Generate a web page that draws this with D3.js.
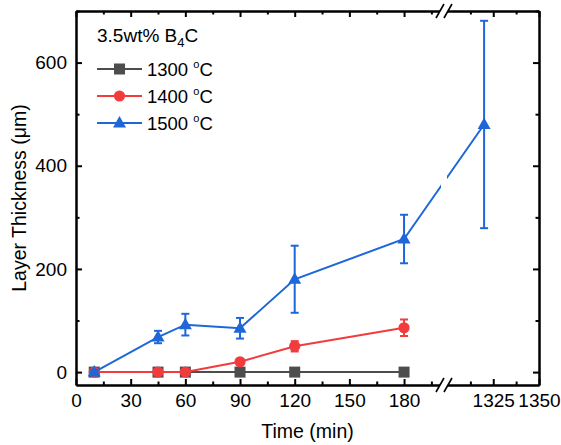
<!DOCTYPE html>
<html>
<head>
<meta charset="utf-8">
<script src="https://cdn.jsdelivr.net/npm/d3@7"></script>
<style>
  html, body { margin: 0; padding: 0; background: #fff; }
  svg text { font-family: "Liberation Sans", Arial, sans-serif; fill: #000; }
</style>
</head>
<body>
<div id="chart"></div>
<script>
// data
var times = [10, 45, 60, 90, 120, 180];
var times1500 = [10, 45, 60, 90, 120, 180, 1320];
var thick1300 = [0, 0, 0, 0, 0, 0];
var err1300 = [0, 0, 0, 0, 0, 0];
var thick1400 = [0, 0, 0, 20, 50, 86];
var err1400 = [0, 0, 0, 5, 10, 16];
var thick1500 = [0, 68, 92, 85, 180, 258, 480];
var err1500 = [4, 12, 21, 20, 65, 47, 201];

var xMajor = [0, 30, 60, 90, 120, 150, 180, 1325, 1350];
var xMinor = [15, 45, 75, 105, 135, 165, 195, 1312.5, 1337.5];
var yMajor = [0, 200, 400, 600];
var yMinor = [100, 300, 500, 700];

var legendTitle = '3.5wt% B';
var seriesNames = ['1300', '1400', '1500'];

(function() {
    var width = 561,
        height = 445,
        pLeft = 76, pRight = 539, pTop = 11, pBottom = 385;

    var brkLo = 440.5, brkHi = 447.5, brkMid = (brkLo + brkHi) / 2;

    // broken x axis: 0-200 | 1300-1350
    var x = d3.scaleLinear()
        .domain([0, 200, 1300, 1350])
        .range([pLeft, brkLo, brkHi, pRight]);

    var y = d3.scaleLinear()
        .domain([-25, 700])
        .range([pBottom, pTop]);

    var series = [
        {name: seriesNames[0], color: '#4d4d4d', shape: 'square', t: times, v: thick1300, e: err1300},
        {name: seriesNames[1], color: '#f23b3d', shape: 'circle', t: times, v: thick1400, e: err1400},
        {name: seriesNames[2], color: '#1d67d8', shape: 'triangle', t: times1500, v: thick1500, e: err1500}
    ];

    var svg = d3.select('#chart').append('svg')
        .attr('width', width)
        .attr('height', height);

    svg.append('rect').attr('width', width).attr('height', height).attr('fill', '#fff');

    function marker(sel, shape, color) {
        if (shape == 'square') {
            sel.append('rect').attr('x', -5.5).attr('y', -5.5).attr('width', 11).attr('height', 11).attr('fill', color);
        } else if (shape == 'circle') {
            sel.append('circle').attr('r', 5.6).attr('fill', color);
        } else {
            sel.append('path').attr('d', 'M0,-7L6.5,4.5L-6.5,4.5Z').attr('fill', color);
        }
    }

    // series: lines, error bars, markers
    series.forEach(function(s) {
        var pts = s.t.map(function(t, i) { return {t: t, v: s.v[i], e: s.e[i]}; });
        var g = svg.append('g');

        g.append('path')
            .datum(pts)
            .attr('fill', 'none')
            .attr('stroke', s.color)
            .attr('stroke-width', 2)
            .attr('d', d3.line().x(function(d) { return x(d.t); }).y(function(d) { return y(d.v); }));

        var eb = g.selectAll('.err')
            .data(pts.filter(function(d) { return d.e > 0; }))
            .enter().append('g')
            .attr('stroke', s.color)
            .attr('stroke-width', 2);
        eb.append('line')
            .attr('x1', function(d) { return x(d.t); })
            .attr('x2', function(d) { return x(d.t); })
            .attr('y1', function(d) { return y(d.v - d.e); })
            .attr('y2', function(d) { return y(d.v + d.e); });
        [-1, 1].forEach(function(sign) {
            eb.append('line')
                .attr('x1', function(d) { return x(d.t) - 4; })
                .attr('x2', function(d) { return x(d.t) + 4; })
                .attr('y1', function(d) { return y(d.v + sign * d.e); })
                .attr('y2', function(d) { return y(d.v + sign * d.e); });
        });

        g.selectAll('.pt')
            .data(pts)
            .enter().append('g')
            .attr('transform', function(d) { return 'translate(' + x(d.t) + ',' + y(d.v) + ')'; })
            .each(function() { marker(d3.select(this), s.shape, s.color); });
    });

    // gap where the curve crosses the break
    svg.append('rect')
        .attr('x', brkLo + 0.5).attr('y', pTop + 2)
        .attr('width', brkHi - brkLo - 1).attr('height', pBottom - pTop - 4)
        .attr('fill', '#fff');

    // axes
    function styleAxis(g) {
        g.selectAll('path, line').attr('stroke', '#000').attr('stroke-width', 2);
        g.selectAll('text').attr('font-size', 19).attr('fill', '#000');
    }

    svg.append('g')
        .attr('transform', 'translate(0,' + pBottom + ')')
        .call(d3.axisBottom(x).tickValues(xMajor).tickSize(-6).tickSizeOuter(0).tickPadding(9).tickFormat(d3.format('d')))
        .call(styleAxis);
    svg.append('g')
        .attr('transform', 'translate(0,' + pBottom + ')')
        .call(d3.axisBottom(x).tickValues(xMinor).tickSize(-3.5).tickSizeOuter(0).tickFormat(''))
        .call(styleAxis);
    svg.append('g')
        .attr('transform', 'translate(0,' + pTop + ')')
        .call(d3.axisTop(x).tickValues(xMajor).tickSize(-6).tickSizeOuter(0).tickFormat(''))
        .call(styleAxis);
    svg.append('g')
        .attr('transform', 'translate(0,' + pTop + ')')
        .call(d3.axisTop(x).tickValues(xMinor).tickSize(-3.5).tickSizeOuter(0).tickFormat(''))
        .call(styleAxis);

    svg.append('g')
        .attr('transform', 'translate(' + pLeft + ',0)')
        .call(d3.axisLeft(y).tickValues(yMajor).tickSize(-6).tickSizeOuter(0).tickPadding(9))
        .call(styleAxis);
    svg.append('g')
        .attr('transform', 'translate(' + pLeft + ',0)')
        .call(d3.axisLeft(y).tickValues(yMinor).tickSize(-3.5).tickSizeOuter(0).tickFormat(''))
        .call(styleAxis);
    svg.append('g')
        .attr('transform', 'translate(' + pRight + ',0)')
        .call(d3.axisRight(y).tickValues(yMajor).tickSize(-6).tickSizeOuter(0).tickFormat(''))
        .call(styleAxis);
    svg.append('g')
        .attr('transform', 'translate(' + pRight + ',0)')
        .call(d3.axisRight(y).tickValues(yMinor).tickSize(-3.5).tickSizeOuter(0).tickFormat(''))
        .call(styleAxis);

    // break marks on top and bottom axes
    [pTop, pBottom].forEach(function(yy) {
        svg.append('path')
            .attr('d', 'M' + (brkMid - 8) + ',' + (yy + 7) + 'L' + (brkMid) + ',' + (yy - 7) +
                       'L' + (brkMid + 8) + ',' + (yy - 7) + 'L' + (brkMid) + ',' + (yy + 7) + 'Z')
            .attr('fill', '#fff');
        [-4, 4].forEach(function(off) {
            svg.append('line')
                .attr('x1', brkMid + off - 4).attr('y1', yy + 7)
                .attr('x2', brkMid + off + 4).attr('y2', yy - 7)
                .attr('stroke', '#000').attr('stroke-width', 1.6);
        });
    });

    // axis titles
    svg.append('text')
        .attr('x', (pLeft + pRight) / 2)
        .attr('y', 438)
        .attr('text-anchor', 'middle')
        .attr('font-size', 19.5)
        .text('Time (min)');

    svg.append('text')
        .attr('transform', 'translate(26,' + ((pTop + pBottom) / 2) + ') rotate(-90)')
        .attr('text-anchor', 'middle')
        .attr('font-size', 19.5)
        .text('Layer Thickness (μm)');

    // legend
    var legend = svg.append('g').attr('transform', 'translate(97,0)');

    var title = legend.append('text').attr('x', 0).attr('y', 42).attr('font-size', 19);
    title.append('tspan').text(legendTitle);
    title.append('tspan').attr('font-size', 13).attr('dy', 5).text('4');
    title.append('tspan').attr('dy', -5).text('C');

    series.forEach(function(s, i) {
        var row = legend.append('g').attr('transform', 'translate(0,' + (69 + i * 27) + ')');
        row.append('line')
            .attr('x1', 0).attr('x2', 45)
            .attr('stroke', s.color).attr('stroke-width', 2);
        var m = row.append('g').attr('transform', 'translate(22.5,0)');
        marker(m, s.shape, s.color);
        var t = row.append('text').attr('x', 50).attr('y', 6.5).attr('font-size', 18.5);
        t.append('tspan').text(s.name + ' ');
        t.append('tspan').attr('font-size', 11).attr('dy', -8).text('o');
        t.append('tspan').attr('dy', 8).text('C');
    });
})();
</script>
</body>
</html>
